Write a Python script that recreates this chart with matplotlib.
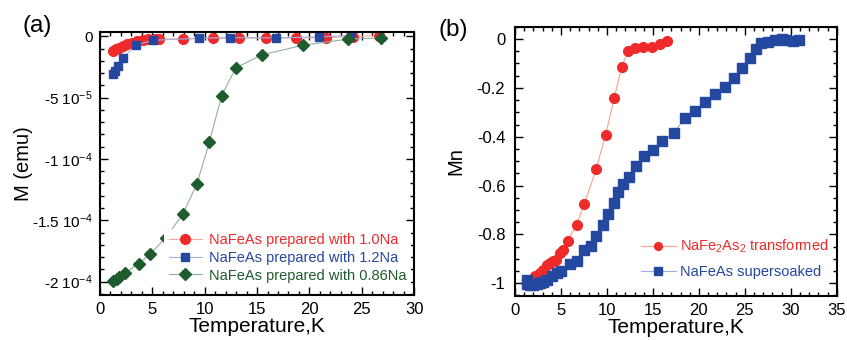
import matplotlib
matplotlib.use("Agg")
import matplotlib.pyplot as plt
from matplotlib.ticker import MultipleLocator, FixedLocator, FixedFormatter

plt.rcParams['font.family'] = ['Liberation Sans', 'DejaVu Sans']
plt.rcParams['mathtext.fontset'] = 'custom'
plt.rcParams['mathtext.rm'] = 'Liberation Sans'
plt.rcParams['mathtext.it'] = 'Liberation Sans'
plt.rcParams['mathtext.bf'] = 'Liberation Sans'

# ---------------- Panel (a) data ----------------
a_T_10 = [1.27, 1.53, 1.85, 2.23, 2.61, 3.03, 3.5, 4.07, 4.6, 5.25, 5.67, 7.9, 10.76,
          13.3, 15.9, 18.7, 21.6, 24.2, 26.6]
a_M_10 = [-1.2e-5, -1.06e-5, -0.92e-5, -0.79e-5, -0.65e-5, -0.52e-5, -0.38e-5, -0.30e-5,
          -0.24e-5, -0.24e-5, -0.24e-5, -0.22e-5, -0.16e-5, -0.14e-5, -0.14e-5, -0.14e-5,
          -0.11e-5, -0.03e-5, 0.05e-5]
a_T_12 = [1.27, 1.46, 1.72, 2.23, 3.41, 5.09, 9.49, 12.4, 16.8, 20.9, 24.0]
a_M_12 = [-3.1e-5, -2.83e-5, -2.42e-5, -1.74e-5, -0.73e-5, -0.33e-5, -0.16e-5, -0.11e-5,
          -0.14e-5, -0.05e-5, 0.05e-5]
a_T_086 = [1.27, 1.59, 1.85, 2.39, 3.72, 4.77, 6.27, 7.95, 9.26, 10.44, 11.61, 12.95,
           15.43, 19.41, 23.64, 26.82]
a_M_086 = [-1.995e-4, -1.976e-4, -1.959e-4, -1.927e-4, -1.853e-4, -1.777e-4, -1.643e-4,
           -1.445e-4, -1.203e-4, -0.865e-4, -0.487e-4, -0.259e-4, -0.152e-4, -0.073e-4,
           -0.024e-4, -0.014e-4]
a_labels = ['NaFeAs prepared with 1.0Na', 'NaFeAs prepared with 1.2Na',
            'NaFeAs prepared with 0.86Na']
a_yticks = [0, -5e-5, -1e-4, -1.5e-4, -2e-4]
a_yticklabels = ['0', '-5 10$^{-5}$', '-1 10$^{-4}$', '-1.5 10$^{-4}$', '-2 10$^{-4}$']
a_xticks = [0, 5, 10, 15, 20, 25, 30]

# ---------------- Panel (b) data ----------------
b_T_tr = [1.9, 2.17, 2.72, 3.08, 3.44, 3.8, 4.17, 4.42, 4.89, 5.25, 5.72, 6.7, 7.54, 8.84,
          9.86, 10.8, 11.6, 12.32, 13.04, 13.95, 14.93, 15.76, 16.56]
b_M_tr = [-0.985, -0.971, -0.960, -0.947, -0.926, -0.917, -0.910, -0.903, -0.878, -0.862,
          -0.826, -0.760, -0.676, -0.532, -0.391, -0.241, -0.113, -0.048, -0.036, -0.031,
          -0.033, -0.020, -0.008]
b_T_ss = [1.27, 1.27, 1.63, 1.99, 2.36, 2.72, 3.08, 3.44, 3.99, 4.53, 4.96, 5.98, 6.78,
          7.54, 8.26, 8.8, 9.6, 10.14, 10.72, 11.2, 11.7, 12.43, 13.15, 14.02, 14.96, 16.0,
          17.28, 18.48, 19.53, 20.62, 21.77, 22.86, 23.8, 24.67, 25.51, 26.2, 26.8, 27.5,
          28.26, 28.99, 29.5, 30.25, 30.9]
b_M_ss = [-0.985, -1.004, -1.008, -1.008, -1.005, -1.001, -0.995, -0.985, -0.970, -0.960,
          -0.951, -0.922, -0.910, -0.865, -0.847, -0.806, -0.762, -0.718, -0.673, -0.627,
          -0.592, -0.565, -0.521, -0.477, -0.455, -0.418, -0.383, -0.325, -0.295, -0.258,
          -0.227, -0.195, -0.161, -0.120, -0.079, -0.042, -0.018, -0.014, -0.004, 0.0,
          -0.004, -0.008, -0.005]
b_labels = ['NaFe$_2$As$_2$ transformed', 'NaFeAs supersoaked']
b_yticks = [0, -0.2, -0.4, -0.6, -0.8, -1]
b_yticklabels = ['0', '-0.2', '-0.4', '-0.6', '-0.8', '-1']
b_xticks = [0, 5, 10, 15, 20, 25, 30, 35]

RED = '#ee2a2a'
BLUE = '#2447a0'
GREEN = '#1e5c2e'

fig = plt.figure(figsize=(8.47, 3.4), dpi=100)
axa = fig.add_axes([0.118, 0.132, 0.371, 0.774])
axb = fig.add_axes([0.608, 0.129, 0.380, 0.792])


def style(ax, ylabsize):
    for s in ax.spines.values():
        s.set_linewidth(1.5)
    ax.tick_params(which='both', direction='in', top=True, right=True,
                   width=1.0)
    ax.tick_params(axis='x', labelsize=12, pad=5)
    ax.tick_params(axis='y', labelsize=ylabsize, pad=5)
    ax.tick_params(which='major', length=6)
    ax.tick_params(which='minor', length=3)


# Panel a
axa.plot(a_T_10, a_M_10, color='#f7a8a0', lw=0.8, marker='o', ms=7,
         mec=RED, mfc=RED, label=a_labels[0])
axa.plot(a_T_12, a_M_12, color='#9fb0e0', lw=0.8, marker='s', ms=6,
         mec=BLUE, mfc=BLUE, label=a_labels[1])
axa.plot(a_T_086, a_M_086, color='#8fb39a', lw=0.8, marker='D', ms=6.5,
         mec=GREEN, mfc=GREEN, label=a_labels[2])
axa.set_xlim(0, 30)
axa.set_ylim(-2.11e-4, 0.035e-4)
axa.xaxis.set_major_locator(FixedLocator(a_xticks))
axa.xaxis.set_minor_locator(MultipleLocator(1))
axa.yaxis.set_major_locator(FixedLocator(a_yticks))
axa.yaxis.set_major_formatter(FixedFormatter(a_yticklabels))
axa.yaxis.set_minor_locator(MultipleLocator(1e-5))
style(axa, 11)
axa.set_xlabel('Temperature,K', fontsize=15, labelpad=0)
axa.set_ylabel('M (emu)', fontsize=14.5, labelpad=-1)
leg = axa.legend(loc='lower right', bbox_to_anchor=(1.0, 0.02), fontsize=10.5,
                 frameon=True, framealpha=1, edgecolor='none', facecolor='white',
                 handlelength=2.3, handletextpad=0.5, labelspacing=0.25,
                 borderpad=0.3, borderaxespad=0.2, fancybox=False)
for t, c in zip(leg.get_texts(), [RED, BLUE, GREEN]):
    t.set_color(c)
fig.text(0.027, 0.924, '(a)', fontsize=17.5, ha='left', va='center')

# Panel b
axb.plot(b_T_tr, b_M_tr, color='#f7a090', lw=0.8, marker='o', ms=7,
         mec=RED, mfc=RED, label=b_labels[0])
axb.plot(b_T_ss, b_M_ss, color='#9fb0e0', lw=0.8, marker='s', ms=6.5,
         mec=BLUE, mfc=BLUE, label=b_labels[1])
axb.set_xlim(0, 35)
axb.set_ylim(-1.053, 0.05)
axb.xaxis.set_major_locator(FixedLocator(b_xticks))
axb.xaxis.set_minor_locator(MultipleLocator(1))
axb.yaxis.set_major_locator(FixedLocator(b_yticks))
axb.yaxis.set_major_formatter(FixedFormatter(b_yticklabels))
axb.yaxis.set_minor_locator(MultipleLocator(0.05))
style(axb, 12)
axb.tick_params(axis='y', pad=7)
axb.set_xlabel('Temperature,K', fontsize=15, labelpad=0)
axb.set_ylabel('Mn', fontsize=14.5, labelpad=8)
legb = axb.legend(loc='lower right', bbox_to_anchor=(1.0, 0.03), fontsize=10.5,
                  frameon=False, handlelength=2.4, handletextpad=0.25,
                  labelspacing=0.7, borderaxespad=0.2, markerscale=0.8)
for t, c in zip(legb.get_texts(), [RED, BLUE]):
    t.set_color(c)
fig.text(0.518, 0.913, '(b)', fontsize=17.5, ha='left', va='center')

fig.savefig('out.png', dpi=100)
